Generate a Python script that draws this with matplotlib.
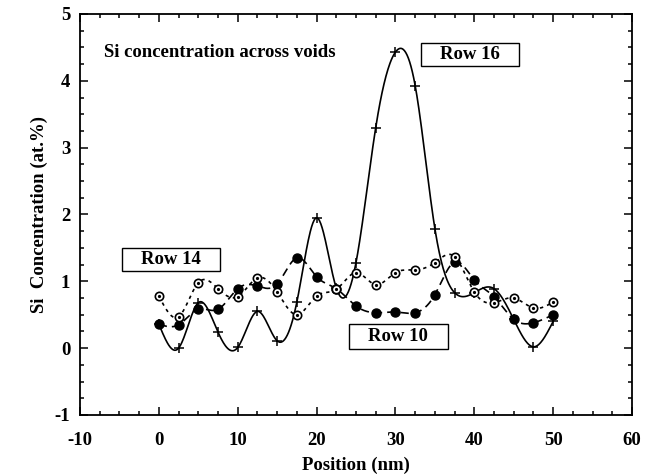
import numpy as np
import matplotlib
matplotlib.use("Agg")
import matplotlib.pyplot as plt
from matplotlib.ticker import MultipleLocator
from matplotlib.patches import Rectangle

# data
position = [0, 2.5, 5, 7.5, 10, 12.5, 15, 17.5, 20, 22.5, 25, 27.5, 30,
            32.5, 35, 37.5, 40, 42.5, 45, 47.5, 50]
row16 = [0.36, 0.00, 0.68, 0.24, 0.01, 0.55, 0.11, 0.69, 1.95, 0.90, 1.28,
         3.30, 4.43, 3.93, 1.79, 0.83, 0.83, 0.89, 0.43, 0.02, 0.40]
row10 = [0.36, 0.35, 0.58, 0.58, 0.89, 0.93, 0.96, 1.35, 1.07, 0.89, 0.63,
         0.53, 0.54, 0.53, 0.80, 1.29, 1.02, 0.77, 0.43, 0.38, 0.50]
row14 = [0.78, 0.47, 0.98, 0.89, 0.77, 1.05, 0.84, 0.50, 0.78, 0.88, 1.13,
         0.95, 1.13, 1.17, 1.28, 1.37, 0.84, 0.68, 0.75, 0.60, 0.69]


def natural_spline(x, y, n=600):
    # natural cubic spline through the points, only used for the drawn curve
    x = np.asarray(x, float)
    y = np.asarray(y, float)
    m = len(x)
    h = np.diff(x)
    A = np.zeros((m, m))
    b = np.zeros(m)
    A[0, 0] = A[-1, -1] = 1
    for i in range(1, m - 1):
        A[i, i - 1] = h[i - 1]
        A[i, i] = 2 * (h[i - 1] + h[i])
        A[i, i + 1] = h[i]
        b[i] = 6 * ((y[i + 1] - y[i]) / h[i] - (y[i] - y[i - 1]) / h[i - 1])
    M = np.linalg.solve(A, b)
    xs = np.linspace(x[0], x[-1], n)
    idx = np.clip(np.searchsorted(x, xs) - 1, 0, m - 2)
    x0, x1 = x[idx], x[idx + 1]
    hh = x1 - x0
    t0, t1 = x1 - xs, xs - x0
    ys = (M[idx] * t0 ** 3 + M[idx + 1] * t1 ** 3) / (6 * hh) \
        + (y[idx] / hh - M[idx] * hh / 6) * t0 \
        + (y[idx + 1] / hh - M[idx + 1] * hh / 6) * t1
    return xs, ys


plt.rcParams['font.family'] = ['Liberation Serif', 'DejaVu Serif']
plt.rcParams['font.weight'] = 'bold'
plt.rcParams['axes.unicode_minus'] = False

fig = plt.figure(figsize=(6.6, 4.76), dpi=100)
ax = fig.add_axes([0.1212, 0.1282, 0.8364, 0.8424])

# Row 16: solid smooth curve with plus markers
xs, ys = natural_spline(position, row16)
ax.plot(xs, ys, color='black', lw=1.2)
ax.plot(position, row16, ls='none', marker='+', ms=7.5, mew=1.1, color='black')

# Row 10: dashed curve, filled circles
xs, ys = natural_spline(position, row10)
ax.plot(xs, ys, color='black', lw=1.2, dashes=(5, 3))
ax.plot(position, row10, ls='none', marker='o', ms=6.5, color='black')

# Row 14: dotted curve, open circles with centre dot
xs, ys = natural_spline(position, row14)
ax.plot(xs, ys, color='black', lw=1.2, dashes=(2, 2.5))
ax.plot(position, row14, ls='none', marker='o', ms=6, mfc='white', mec='black', mew=1.2)
ax.plot(position, row14, ls='none', marker='o', ms=1.3, color='black')

ax.set_xlim(-10, 60)
ax.set_ylim(-1, 5)
ax.xaxis.set_major_locator(MultipleLocator(10))
ax.xaxis.set_minor_locator(MultipleLocator(2.5))
ax.yaxis.set_major_locator(MultipleLocator(1))
ax.yaxis.set_minor_locator(MultipleLocator(0.25))
ax.tick_params(which='both', direction='in', top=True, right=True, width=1.1)
ax.tick_params(which='major', length=6, labelsize=13.5)
ax.tick_params(axis='x', which='major', pad=12)
ax.tick_params(axis='y', which='major', pad=7)
ax.tick_params(which='minor', length=3)
for lbl in ax.get_xticklabels() + ax.get_yticklabels():
    lbl.set_fontweight('bold')
for s in ax.spines.values():
    s.set_linewidth(1.3)

ax.set_xlabel('Position (nm)', fontsize=13.5, fontweight='bold', labelpad=6)
ax.set_ylabel('Si  Concentration (at.%)', fontsize=13.5, fontweight='bold', labelpad=5)

ax.text(0.0435, 0.903, 'Si concentration across voids', transform=ax.transAxes,
        fontsize=13.5, fontweight='bold', va='center', ha='left')

# boxed row labels
boxes = [('Row 16', 33.24, 4.223, 12.43, 0.344),
         ('Row 14', -4.67, 1.155, 12.43, 0.344),
         ('Row 10', 24.10, -0.012, 12.55, 0.374)]
for label, bx, by, bw, bh in boxes:
    ax.add_patch(Rectangle((bx, by), bw, bh, fc='white', ec='black', lw=1, zorder=5))
    ax.text(bx + bw / 2, by + bh / 2, label, fontsize=13.5, fontweight='bold',
            ha='center', va='center', zorder=6)

fig.savefig('out.png', dpi=100)
